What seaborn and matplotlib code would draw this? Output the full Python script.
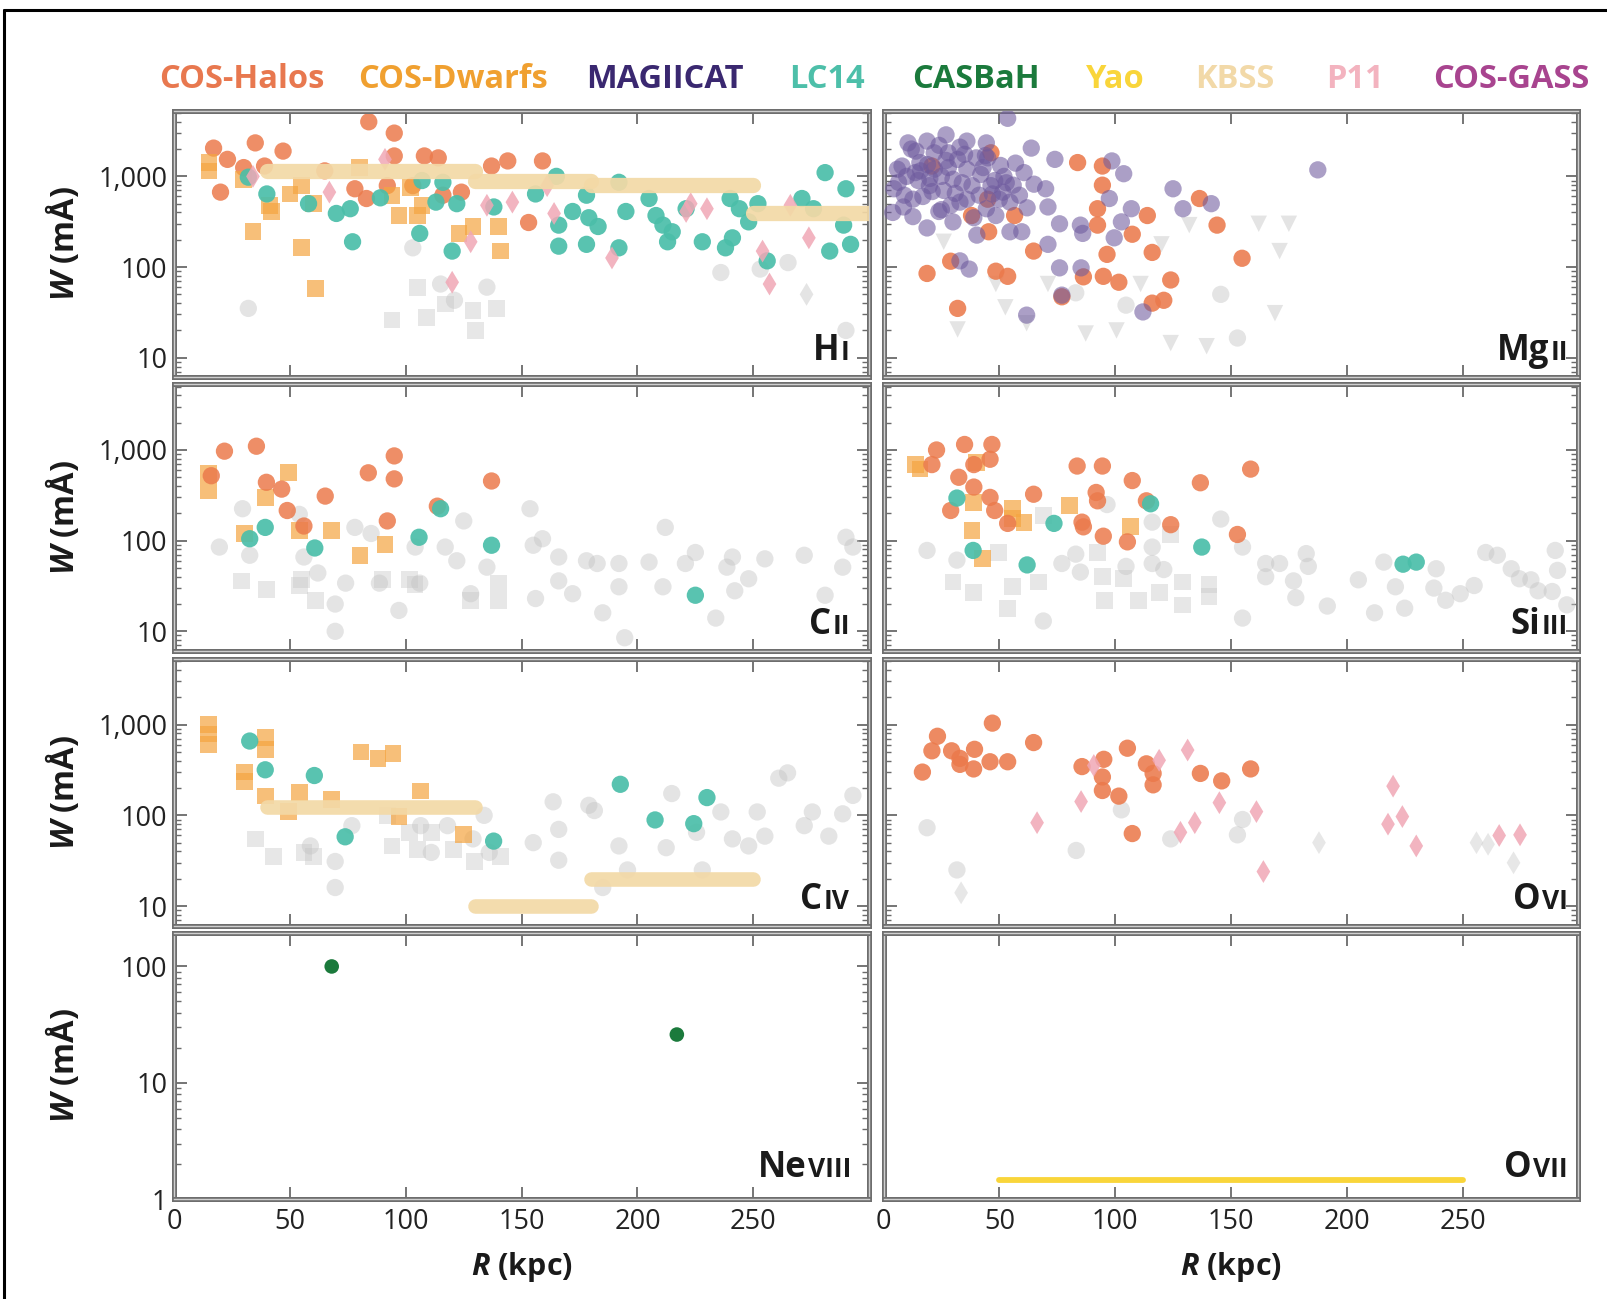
import matplotlib
matplotlib.use("Agg")
import matplotlib.pyplot as plt
import matplotlib.patheffects as pe
import seaborn as sns
from matplotlib.lines import Line2D
from matplotlib.ticker import LogLocator, FuncFormatter, NullFormatter
from matplotlib.offsetbox import TextArea, HPacker, AnchoredOffsetbox

# ---------------------------------------------------------------- data
# Survey names and colours for the header row
survey_names = ["COS-Halos", "COS-Dwarfs", "MAGIICAT", "LC14", "CASBaH",
                "Yao", "KBSS", "P11", "COS-GASS"]
survey_colors = ["#E8784F", "#F0A030", "#3A2870", "#4DBFA9", "#1B7A3C",
                 "#F9D53A", "#F2D9A8", "#F3B3BF", "#A8448F"]

# --- H I
hi_halos_r = [17, 23, 20, 35, 30, 47, 39, 65, 84, 95, 95, 108, 114, 78, 83, 92,
              103, 116, 124, 137, 144, 159, 153]
hi_halos_w = [2050, 1540, 670, 2340, 1250, 1900, 1300, 1150, 4000, 3000, 1680,
              1680, 1600, 730, 570, 790, 790, 620, 670, 1300, 1480, 1480, 310]
hi_lc14_r = [32, 40, 58, 70, 76, 77, 89, 106, 113, 122, 120, 107, 116, 138, 156,
             165, 166, 166, 172, 178, 178, 179, 183, 192, 192, 195, 205, 208,
             211, 213, 215, 221, 228, 238, 241, 240, 244, 248, 252, 256, 271,
             276, 281, 290, 289, 283, 292]
hi_lc14_w = [980, 640, 500, 390, 440, 190, 580, 235, 520, 500, 150, 900, 860,
             460, 640, 1000, 290, 170, 410, 620, 178, 350, 280, 860, 163, 410,
             570, 370, 290, 190, 245, 440, 190, 163, 210, 570, 440, 315, 500,
             117, 570, 440, 1100, 730, 290, 150, 178]
hi_dwarfs_r = [15, 15, 30, 34, 42, 41, 50, 55, 55, 61, 60, 80, 94, 97, 105, 107,
               123, 129, 140, 141, 102]
hi_dwarfs_w = [1420, 1150, 930, 245, 410, 480, 640, 790, 163, 58, 500, 1250,
               620, 370, 370, 480, 235, 280, 280, 150, 760]
hi_p11_r = [34, 67, 91, 135, 128, 146, 120, 164, 161, 189, 223, 230, 254, 257,
            266, 274, 221]
hi_p11_w = [1000, 670, 1540, 480, 190, 520, 68, 390, 790, 126, 500, 440, 150,
            65, 480, 210, 410]
hi_lim_circ_r = [32, 103, 115, 121, 135, 236, 265, 253, 290]
hi_lim_circ_w = [35, 163, 65, 43, 60, 87, 112, 95, 20]
hi_lim_sq_r = [94, 105, 109, 129, 130, 139, 117]
hi_lim_sq_w = [26, 60, 28, 33, 20, 35, 39]
hi_lim_dia_r = [273]
hi_lim_dia_w = [50]
hi_kbss_lo = [40, 130, 180, 250]
hi_kbss_hi = [130, 180, 250, 300]
hi_kbss_w = [1150, 900, 800, 390]

# --- Mg II
mg_magii_r = [10.6, 18.8, 27, 36, 44.4, 53.6, 63.8, 74, 98.6, 103.7, 125, 129.3,
              141.5, 187.5, 6.5, 4.5, 8.6, 12.7, 18.8, 15.7, 21.9, 28, 32, 13.7,
              19.8, 25, 30, 36, 38.2, 41.3, 44.4, 48.5, 46.4, 50.5, 51.5, 54.6,
              58.7, 60.7, 59.7, 54.6, 40.3, 30, 23.9, 33, 70, 71, 76, 71, 85, 86,
              97.5, 107, 102.7, 99.6, 76, 85.3, 33, 37, 61.8, 112, 77, 12.7,
              8, 14, 22, 26, 34, 42, 48, 17, 29, 39, 56, 62, 12, 24, 45, 31, 20,
              50, 65, 4, 10, 16, 27, 35, 43, 52, 21, 9, 36, 47, 25, 15, 57, 40,
              28, 19, 6, 44, 33, 53]
mg_magii_w = [2340, 2450, 2870, 2450, 2340, 4370, 2050, 1540, 1480, 1070, 730,
              440, 500, 1180, 860, 730, 460, 360, 270, 1420, 1820, 1820, 1540,
              1100, 790, 1000, 930, 1200, 790, 620, 440, 370, 790, 1320, 670,
              520, 620, 1100, 245, 245, 225, 315, 410, 520, 730, 460, 300, 178,
              290, 235, 570, 440, 315, 210, 98, 98, 117, 95, 29.5, 32, 49, 560,
              1300, 1900, 1200, 700, 850, 1050, 900, 600, 480, 350, 800, 450,
              2000, 2200, 1600, 650, 950, 560, 820, 400, 1000, 1150, 1500, 1750,
              1250, 1000, 680, 620, 560, 640, 430, 900, 1400, 1600, 1250, 1350,
              1200, 1700, 2100, 850]
mg_halos_r = [46.4, 20.9, 38, 45.4, 56.6, 45, 83.8, 94.5, 94.5, 92.4, 92.4,
              136.4, 144, 113.9, 107.4, 64.8, 96.5, 116, 154.8, 48.5, 53.6, 29,
              18.8, 86.3, 94.9, 101.6, 124, 77, 116, 121, 32]
mg_halos_w = [1820, 1300, 370, 245, 370, 560, 1420, 1300, 800, 440, 290, 570,
              290, 370, 230, 150, 138, 145, 125, 90, 79, 116, 85, 78, 79, 68, 72,
              47, 40, 43, 35]
mg_lim_tri_r = [26, 48.5, 52.6, 71, 87.3, 100.6, 124, 139.5, 169, 171, 162, 175,
                132, 61.8, 32, 111, 120]
mg_lim_tri_w = [190, 65, 36, 65, 18.5, 20, 14.5, 13.4, 31, 150, 300, 300, 290,
                24, 20.5, 65, 178]
mg_lim_circ_r = [145.6, 152.8, 104.7, 83]
mg_lim_circ_w = [50, 16.5, 38, 52]

# --- C II
c2_halos_r = [16, 21.7, 35.5, 39.8, 46.4, 48.8, 56, 65.2, 83.8, 95, 95, 92,
              113.6, 137]
c2_halos_w = [520, 970, 1100, 440, 370, 215, 145, 310, 560, 860, 480, 165, 240,
              455]
c2_dwarfs_r = [14.8, 14.8, 30.2, 39.3, 49.3, 54, 68, 80.2, 91]
c2_dwarfs_w = [550, 360, 120, 300, 560, 130, 130, 69, 91]
c2_lc14_r = [32.6, 39.3, 60.7, 105.7, 115, 137, 225]
c2_lc14_w = [105, 140, 83, 109, 225, 89, 25]
c2_lim_circ_r = [19.5, 29.5, 32.6, 54, 56, 62, 69.5, 69.5, 74, 78, 85, 88.6, 97,
                 104, 106, 117, 122, 125, 128, 135, 153.6, 155, 159, 156, 166,
                 166, 172, 178, 182.6, 185, 192, 192, 194.5, 205, 211, 212,
                 220.7, 225, 233.8, 238.6, 241, 242, 248, 255, 272, 281, 288.6,
                 290, 293]
c2_lim_circ_w = [85, 225, 69, 195, 66, 44, 20, 10, 34, 140, 120, 34, 17, 85, 34,
                 85, 60, 165, 26, 51, 225, 89, 105, 23, 66, 36, 26, 60, 56, 16,
                 56, 31, 8.5, 58, 31, 140, 56, 74, 14, 51, 66, 28, 38, 63, 69, 25,
                 51, 109, 85]
c2_lim_sq_r = [29, 39.8, 55, 61, 89.8, 101.7, 104, 128, 140, 140, 54]
c2_lim_sq_w = [36, 29, 37, 22, 37, 37, 33, 22, 34, 22, 32]

# --- Si III
si_halos_r = [22.9, 20.9, 35, 46.8, 46, 39, 32.5, 39, 46, 29, 48, 53.6, 64.8,
              83.6, 94.5, 91.8, 92.4, 107.4, 113.5, 85.7, 86.3, 94.9, 105.3, 124,
              136.8, 152.8, 158.5]
si_halos_w = [1000, 690, 1150, 1150, 790, 690, 500, 390, 300, 215, 215, 155, 325,
              665, 665, 340, 275, 460, 275, 160, 142, 112, 97, 150, 435, 117, 615]
si_dwarfs_r = [13.7, 15.7, 39, 38.2, 42.7, 55.6, 60.7, 55.6, 80.2, 106.7, 40]
si_dwarfs_w = [690, 615, 265, 130, 63, 225, 160, 175, 245, 142, 730]
si_lc14_r = [31.7, 38.7, 62, 73.6, 115.3, 137.4, 224.3, 230]
si_lc14_w = [295, 78, 54, 155, 255, 85, 55, 58]
si_lim_circ_r = [18.8, 31.7, 69, 77, 83, 85, 96.5, 104.7, 116, 116, 116, 121,
                 145.6, 155, 155, 165, 165, 171, 177, 178, 182.5, 183.4, 191.6,
                 205, 212, 216, 221, 225, 238.6, 237.6, 242.7, 249, 255, 260, 265,
                 271, 274.5, 279.5, 282.6, 288.7, 290, 291, 295]
si_lim_circ_w = [78, 61, 13, 56, 71, 45, 250, 52, 160, 85, 56, 48, 173, 85, 14,
                 56, 40, 56, 36, 23.5, 72, 52, 19, 37, 16, 58, 31, 18, 49, 30, 22,
                 26, 32, 74, 69, 49, 38, 37, 28, 27.5, 78, 47, 19.6]
si_lim_sq_r = [30, 39, 49.5, 53.6, 55.6, 66.9, 69, 92.4, 94.5, 95.5, 103.7, 110,
               119, 129, 129, 140.5, 140.5, 124]
si_lim_sq_w = [35, 27, 74, 18, 31, 35, 190, 74, 40, 22, 38, 22, 27, 35, 19.5, 33,
               24, 117]

# --- C IV
c4_dwarfs_r = [14.8, 14.8, 14.8, 30.2, 30.2, 39.3, 39.3, 39.3, 54, 67.9, 49.3,
               80.7, 88, 94.5, 97, 106.4, 124.8]
c4_dwarfs_w = [1000, 790, 605, 300, 235, 720, 530, 163, 178, 150, 110, 500, 420,
               480, 97, 185, 62]
c4_lc14_r = [32.6, 39.3, 60.5, 73.8, 137.9, 192.6, 207.6, 224.3, 230]
c4_lc14_w = [660, 318, 275, 58, 52, 220, 89, 81, 157]
c4_lim_circ_r = [163.6, 179, 181.4, 192, 166, 155, 166, 214.8, 212.4, 225.5, 236,
                 241, 248, 251.7, 255, 261, 264.8, 275.5, 282.6, 288.6, 293,
                 69.5, 69.5, 58.8, 76.7, 133.8, 129, 111, 106.4, 118, 136, 185,
                 195.7, 228, 272]
c4_lim_circ_w = [141, 129, 113, 46, 70, 50, 32, 174, 44, 65, 109, 55, 46, 109,
                 59, 257, 294, 109, 59, 104, 166, 31, 16, 46, 77, 100, 55, 39, 77,
                 77, 39, 16, 25, 25, 77]
c4_lim_sq_r = [35, 42.9, 56, 60, 94, 105, 120.7, 129.8, 141, 101.7, 111, 92]
c4_lim_sq_w = [55, 35, 39, 35, 46, 42, 42, 31, 35, 65, 65, 100]
c4_kbss_lo = [40, 130, 180]
c4_kbss_hi = [130, 180, 250]
c4_kbss_w = [125, 10, 20]

# --- O VI
o6_halos_r = [16.8, 20.9, 23.3, 29.4, 33, 33, 39.3, 38.9, 46, 47, 53.6, 64.8,
              85.7, 95.1, 94.5, 94.5, 101.6, 105.3, 113.5, 116.4, 116.4, 107.4,
              136.8, 146, 158.5]
o6_halos_w = [300, 515, 745, 515, 425, 365, 535, 325, 390, 1040, 390, 635, 345,
              415, 265, 188, 163, 550, 370, 290, 217, 63, 290, 240, 325]
o6_p11_r = [66.3, 85.3, 90.8, 119, 131.3, 134.4, 128.2, 145, 161, 164, 220,
            217.8, 224, 230, 265.8, 274.8]
o6_p11_w = [83, 142, 355, 405, 525, 83, 65, 138, 110, 24, 210, 80, 97, 46, 60,
            61]
o6_lim_circ_r = [18.8, 31.7, 83.2, 102.7, 124, 152.8, 155]
o6_lim_circ_w = [73, 25, 41, 115, 55, 61, 90]
o6_lim_dia_r = [33.5, 188, 256, 261, 272]
o6_lim_dia_w = [14, 50, 50, 48, 30]

# --- Ne VIII and O VII
casbah_r = [68, 217]
casbah_w = [100, 26]
yao_lo = [50]
yao_hi = [250]
yao_w = [1.45]

x_ticks = [0, 50, 100, 150, 200, 250]

# ---------------------------------------------------------------- style
sns.set_style("white")
FONT = ["Open Sans", "DejaVu Sans"]
plt.rcParams["font.family"] = FONT
plt.rcParams["mathtext.fontset"] = "custom"
plt.rcParams["mathtext.bfit"] = "Open Sans:italic:bold"
plt.rcParams["mathtext.rm"] = "Open Sans:bold"

C_HALOS = "#EB7A4C"
C_DWARF = "#F5A540"
C_MAGII = "#6E5A9E"
C_LC14 = "#4BBEA9"
C_CASB = "#1B7A3C"
C_YAO = "#F9D53A"
C_KBSS = "#F3D9A6"
C_P11 = "#F0A7B5"
C_GRAY = "#C4C4C4"
SPINE = "#6A6A6A"

fig = plt.figure(figsize=(16.07, 12.99), dpi=100)

col_left = [174.2 / 1607, 883.5 / 1607]
ax_w = 694.9 / 1607
row_top = [110.7, 384.3, 659.0, 932.7]
ax_h_px = 266.5

# doubled frame line around every panel
frame_fx = [pe.Stroke(linewidth=3.6, foreground="#6e6e6e"),
            pe.Stroke(linewidth=1.0, foreground="#cfcfcf")]


def scatter(ax, r, w, color, marker, size, alpha, z=2):
    sns.scatterplot(x=r, y=w, ax=ax, color=color, marker=marker, s=size,
                    alpha=alpha, edgecolor="none", linewidth=0, legend=False,
                    zorder=z)


def bars(ax, lo, hi, w, color, lw, alpha=0.92, z=4):
    for a, b, v in zip(lo, hi, w):
        ax.plot([a, b], [v, v], color=color, lw=lw, alpha=alpha,
                solid_capstyle="round", zorder=z)


def ion_label(ax, elem, num, x, y):
    t1 = TextArea(elem, textprops=dict(fontsize=25, fontweight="bold",
                                       color="#1a1a1a", family=FONT))
    t2 = TextArea(num, textprops=dict(fontsize=19, fontweight="bold",
                                      color="#1a1a1a", family=FONT))
    box = HPacker(children=[t1, t2], align="baseline", pad=0, sep=1)
    ab = AnchoredOffsetbox(loc="lower right", child=box, pad=0, borderpad=0,
                           frameon=False, bbox_to_anchor=(x, y),
                           bbox_transform=ax.transAxes)
    ax.add_artist(ab)


S_CIRC = 155
S_SQ = 145
S_DIA = 135
S_TRI = 140

axes = {}
for i in range(4):
    for j in range(2):
        bottom = 1 - (row_top[i] + ax_h_px) / 1299
        ax = fig.add_axes([col_left[j], bottom, ax_w, ax_h_px / 1299])
        ax.set_yscale("log")
        ax.set_xlim(0, 300)
        if i < 3:
            ax.set_ylim(6.1, 5300)
        else:
            ax.set_ylim(1, 195)
        ax.set_xticks(x_ticks)
        ax.tick_params(axis="x", which="major", direction="in", top=True,
                       bottom=True, length=9, width=1.3, color=SPINE,
                       labelsize=19.5, pad=6, labelcolor="#222222")
        ax.yaxis.set_major_locator(LogLocator(base=10, numticks=10))
        ax.yaxis.set_minor_locator(LogLocator(base=10, subs=range(2, 10),
                                              numticks=100))
        ax.yaxis.set_minor_formatter(NullFormatter())
        ax.yaxis.set_major_formatter(FuncFormatter(lambda v, _: f"{v:,.0f}"))
        show_y = not (i == 3 and j == 1)
        ax.tick_params(axis="y", which="major", direction="in", left=show_y,
                       right=show_y, length=9, width=1.3, color=SPINE,
                       labelsize=19.5, pad=5, labelcolor="#222222")
        ax.tick_params(axis="y", which="minor", direction="in", left=show_y,
                       right=show_y, length=5, width=1.0, color=SPINE)
        if j == 1:
            ax.tick_params(axis="y", which="both", labelleft=False)
        if i < 3:
            ax.tick_params(axis="x", labelbottom=False)
        for sp in ax.spines.values():
            sp.set_visible(True)
            sp.set_color(SPINE)
            sp.set_linewidth(1.0)
            sp.set_path_effects(frame_fx)
        if j == 0:
            ax.set_ylabel(r"$\mathbfit{W}$ (mÅ)", fontsize=23.5,
                          fontweight="bold", color="#1a1a1a")
            ax.yaxis.set_label_coords(-0.133, 0.5)
        if i == 3:
            ax.set_xlabel(r"$\mathbfit{R}$ (kpc)", fontsize=22,
                          fontweight="bold", color="#1a1a1a")
            ax.xaxis.set_label_coords(0.5, -0.19)
        axes[(i, j)] = ax

# H I
ax = axes[(0, 0)]
scatter(ax, hi_lim_circ_r, hi_lim_circ_w, C_GRAY, "o", S_CIRC, 0.45, 1)
scatter(ax, hi_lim_sq_r, hi_lim_sq_w, C_GRAY, "s", S_SQ, 0.4, 1)
scatter(ax, hi_lim_dia_r, hi_lim_dia_w, C_GRAY, "d", S_DIA, 0.45, 1)
scatter(ax, hi_halos_r, hi_halos_w, C_HALOS, "o", S_CIRC, 0.85)
scatter(ax, hi_dwarfs_r, hi_dwarfs_w, C_DWARF, "s", S_SQ, 0.7)
scatter(ax, hi_lc14_r, hi_lc14_w, C_LC14, "o", S_CIRC, 0.92)
scatter(ax, hi_p11_r, hi_p11_w, C_P11, "d", S_DIA, 0.85)
bars(ax, hi_kbss_lo, hi_kbss_hi, hi_kbss_w, C_KBSS, 11)
ion_label(ax, "H", "I", 0.972, 0.03)

# Mg II
ax = axes[(0, 1)]
scatter(ax, mg_lim_tri_r, mg_lim_tri_w, C_GRAY, "v", S_TRI, 0.45, 1)
scatter(ax, mg_lim_circ_r, mg_lim_circ_w, C_GRAY, "o", S_CIRC, 0.45, 1)
scatter(ax, mg_halos_r, mg_halos_w, C_HALOS, "o", S_CIRC, 0.88)
scatter(ax, mg_magii_r, mg_magii_w, C_MAGII, "o", S_CIRC, 0.58, 3)
ion_label(ax, "Mg", "II", 0.985, 0.03)

# C II
ax = axes[(1, 0)]
scatter(ax, c2_lim_circ_r, c2_lim_circ_w, C_GRAY, "o", S_CIRC, 0.45, 1)
scatter(ax, c2_lim_sq_r, c2_lim_sq_w, C_GRAY, "s", S_SQ, 0.4, 1)
scatter(ax, c2_dwarfs_r, c2_dwarfs_w, C_DWARF, "s", S_SQ, 0.7)
scatter(ax, c2_halos_r, c2_halos_w, C_HALOS, "o", S_CIRC, 0.85)
scatter(ax, c2_lc14_r, c2_lc14_w, C_LC14, "o", S_CIRC, 0.92)
ion_label(ax, "C", "II", 0.972, 0.03)

# Si III
ax = axes[(1, 1)]
scatter(ax, si_lim_circ_r, si_lim_circ_w, C_GRAY, "o", S_CIRC, 0.45, 1)
scatter(ax, si_lim_sq_r, si_lim_sq_w, C_GRAY, "s", S_SQ, 0.4, 1)
scatter(ax, si_dwarfs_r, si_dwarfs_w, C_DWARF, "s", S_SQ, 0.7)
scatter(ax, si_halos_r, si_halos_w, C_HALOS, "o", S_CIRC, 0.85)
scatter(ax, si_lc14_r, si_lc14_w, C_LC14, "o", S_CIRC, 0.92)
ion_label(ax, "Si", "III", 0.985, 0.03)

# C IV
ax = axes[(2, 0)]
scatter(ax, c4_lim_circ_r, c4_lim_circ_w, C_GRAY, "o", S_CIRC, 0.45, 1)
scatter(ax, c4_lim_sq_r, c4_lim_sq_w, C_GRAY, "s", S_SQ, 0.4, 1)
scatter(ax, c4_dwarfs_r, c4_dwarfs_w, C_DWARF, "s", S_SQ, 0.7)
scatter(ax, c4_lc14_r, c4_lc14_w, C_LC14, "o", S_CIRC, 0.92)
bars(ax, c4_kbss_lo, c4_kbss_hi, c4_kbss_w, C_KBSS, 10.5)
ion_label(ax, "C", "IV", 0.972, 0.03)

# O VI
ax = axes[(2, 1)]
scatter(ax, o6_lim_circ_r, o6_lim_circ_w, C_GRAY, "o", S_CIRC, 0.45, 1)
scatter(ax, o6_lim_dia_r, o6_lim_dia_w, C_GRAY, "d", S_DIA, 0.4, 1)
scatter(ax, o6_halos_r, o6_halos_w, C_HALOS, "o", S_CIRC, 0.88)
scatter(ax, o6_p11_r, o6_p11_w, C_P11, "d", S_DIA, 0.85)
ion_label(ax, "O", "VI", 0.985, 0.03)

# Ne VIII
ax = axes[(3, 0)]
scatter(ax, casbah_r, casbah_w, C_CASB, "o", 110, 1.0)
ion_label(ax, "Ne", "VIII", 0.975, 0.05)

# O VII
ax = axes[(3, 1)]
bars(ax, yao_lo, yao_hi, yao_w, C_YAO, 4.2, alpha=1.0)
ion_label(ax, "O", "VII", 0.985, 0.05)

# header row naming the surveys
header_x = [242, 453, 665, 827, 976, 1115, 1235, 1355, 1511]
for name, col, xc in zip(survey_names, survey_colors, header_x):
    fig.text(xc / 1607, 1 - 80 / 1299, name, color=col, fontsize=23.5,
             fontweight="bold", ha="center", va="center")

# frame lines on the left and top of the figure
fig.add_artist(Line2D([4 / 1607, 4 / 1607], [0, 1 - 10 / 1299],
                      transform=fig.transFigure, color="black", lw=2.2))
fig.add_artist(Line2D([4 / 1607, 1], [1 - 10 / 1299, 1 - 10 / 1299],
                      transform=fig.transFigure, color="black", lw=2.2))

fig.savefig("out.png", dpi=100, facecolor="white")
